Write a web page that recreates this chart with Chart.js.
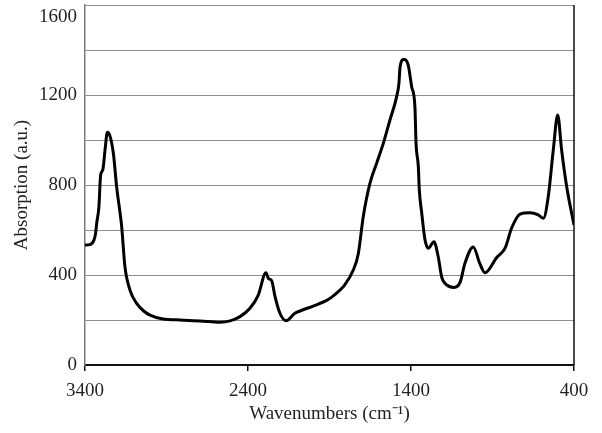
<!DOCTYPE html>
<html>
<head>
<meta charset="utf-8">
<script src="https://cdn.jsdelivr.net/npm/chart.js@4"></script>
<style>
  html, body { margin: 0; padding: 0; background: #fff; }
  #wrap { width: 602px; height: 433px; }
</style>
</head>
<body>
<div id="wrap"><canvas id="spectrum" width="602" height="433"></canvas></div>
<script>
(function () {
  'use strict'

  // IR spectrum, wavenumber (cm-1) vs absorption
  const wavenumbers = [
    3400, 3370, 3345, 3335, 3328, 3315, 3304, 3291, 3277, 3263,
    3250, 3226, 3206, 3175, 3155, 3124, 3083, 3040, 3001, 2921,
    2817, 2694, 2572, 2510, 2449, 2388, 2337, 2290, 2275, 2255,
    2234, 2204, 2167, 2112, 2081, 2000, 1920, 1897, 1836, 1815,
    1754, 1723, 1693, 1652, 1611, 1570, 1529, 1488, 1474, 1467,
    1443, 1417, 1396, 1376, 1369, 1355, 1349, 1334, 1314, 1294,
    1259, 1233, 1212, 1181, 1136, 1099, 1069, 1018, 977, 946,
    874, 823, 782, 731, 670, 619, 588, 558, 527, 500,
    476, 445, 400
  ];
  const absorption = [
    533, 535, 555, 585, 631, 700, 844, 867, 956, 1034,
    1025, 941, 793, 615, 437, 333, 274, 240, 222, 204,
    200, 196, 190, 196, 215, 252, 311, 410, 385, 375,
    304, 230, 197, 230, 240, 262, 286, 296, 333, 348,
    422, 496, 659, 807, 896, 985, 1089, 1193, 1252, 1326,
    1359, 1333, 1237, 1148, 985, 881, 778, 674, 556, 519,
    548, 481, 392, 356, 345, 367, 452, 525, 449, 410,
    478, 519, 610, 671, 677, 667, 652, 748, 956, 1111,
    956, 793, 622
  ];

  const xTicks = [3400, 2400, 1400, 400];
  const yLabels = [0, 400, 800, 1200, 1600];

  const serif = "'Liberation Serif', 'Times New Roman', serif";
  const textColor = '#231f20';

  const points = wavenumbers.map((w, i) => ({ x: w, y: absorption[i] }));

  // right frame line + the top label pushed inside the canvas
  const frame = {
    id: 'frame',
    afterDraw(chart) {
      const c = chart.ctx;
      const a = chart.chartArea;
      const y = chart.scales.y;
      c.save();
      c.strokeStyle = '#111';
      c.lineWidth = 1.5;
      c.beginPath();
      c.moveTo(a.right, a.top);
      c.lineTo(a.right, a.bottom);
      c.stroke();
      c.fillStyle = textColor;
      c.font = '19px ' + serif;
      c.textAlign = 'right';
      c.textBaseline = 'middle';
      c.fillText('1600', a.left - 8, y.getPixelForValue(1600) + 12);
      c.restore();
    }
  };

  new Chart(document.getElementById('spectrum'), {
    type: 'line',
    data: {
      datasets: [{
        data: points,
        borderColor: '#000',
        borderWidth: 3,
        pointRadius: 0,
        fill: false,
        cubicInterpolationMode: 'monotone'
      }]
    },
    options: {
      responsive: false,
      animation: false,
      layout: { padding: { top: 5, right: 28, left: 0, bottom: 0 } },
      plugins: { legend: { display: false }, tooltip: { enabled: false } },
      scales: {
        x: {
          type: 'linear',
          reverse: true,
          min: 400,
          max: 3400,
          afterBuildTicks: (s) => { s.ticks = xTicks.map(v => ({ value: v })); },
          afterFit: (s) => { s.height = 68; s.paddingLeft = 0; s.paddingRight = 0; },
          grid: { drawOnChartArea: false, color: '#111', lineWidth: 1.5, tickLength: 6 },
          border: { color: '#111', width: 2 },
          ticks: {
            color: textColor,
            font: { family: serif, size: 19 },
            padding: 9,
            maxRotation: 0,
            callback: (v) => String(v)
          },
          title: {
            display: true,
            text: 'Wavenumbers (cm\u207B\u00B9)',
            color: textColor,
            font: { family: serif, size: 19 },
            padding: { top: 9, bottom: 8 }
          }
        },
        y: {
          min: 0,
          max: 1600,
          afterFit: (s) => { s.width = 85; s.paddingTop = 0; s.paddingBottom = 0; },
          grid: { color: '#8f8f8f', lineWidth: 1, drawTicks: false },
          border: { color: '#7a7a7a', width: 1.5 },
          ticks: {
            stepSize: 200,
            padding: 8,
            color: textColor,
            font: { family: serif, size: 19 },
            callback: (v) => (yLabels.includes(v) && v !== 1600 ? v : '')
          },
          title: {
            display: true,
            text: 'Absorption (a.u.)',
            color: textColor,
            font: { family: serif, size: 19 },
            padding: { top: 11, bottom: 9 }
          }
        }
      }
    },
    plugins: [frame]
  });
})()
</script>
</body>
</html>
